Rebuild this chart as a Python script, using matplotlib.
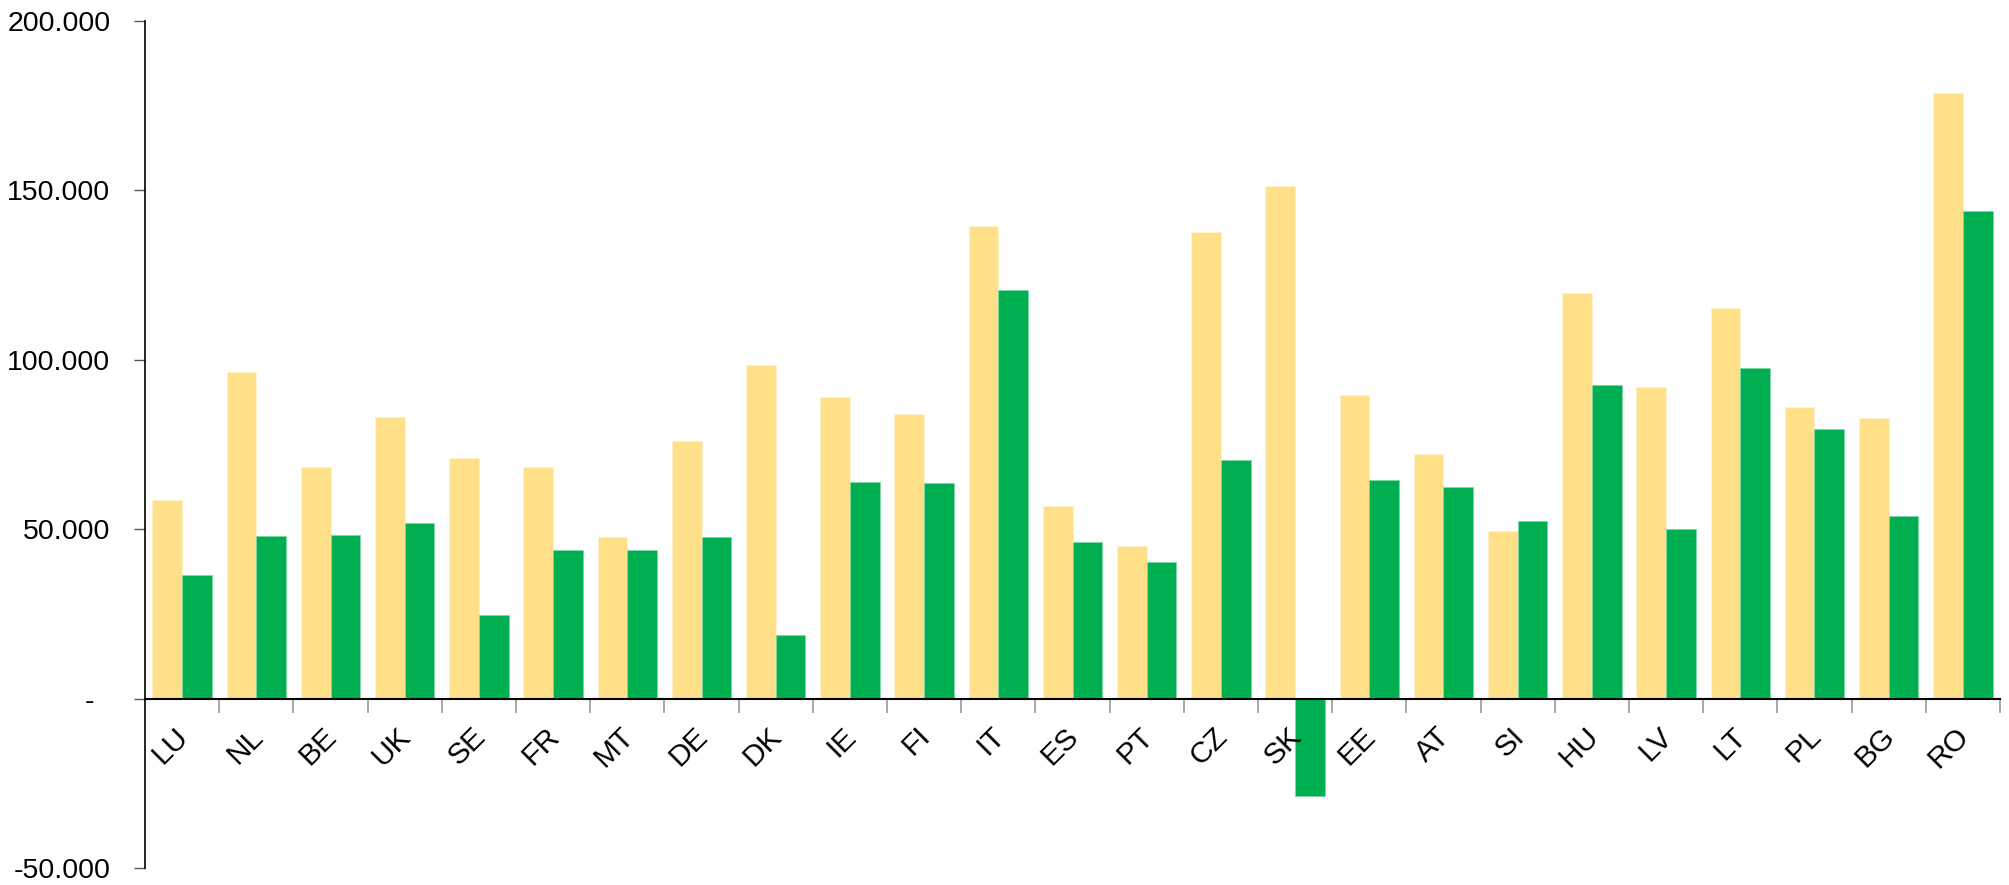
import numpy as np
import matplotlib.pyplot as plt
import matplotlib.transforms as mtransforms
from matplotlib.ticker import FixedLocator

plt.rcParams['font.family'] = ['Liberation Sans', 'DejaVu Sans']

# Country codes and the two series
countries = ["LU", "NL", "BE", "UK", "SE", "FR", "MT", "DE", "DK", "IE", "FI", "IT", "ES",
             "PT", "CZ", "SK", "EE", "AT", "SI", "HU", "LV", "LT", "PL", "BG", "RO"]
series_a = [58600, 96500, 68300, 83100, 70900, 68500, 47800, 76100, 98600, 89000, 83900, 139500, 56800,
            45100, 137700, 151200, 89500, 72100, 49600, 119600, 92100, 115200, 86100, 82900, 178600]
series_b = [36600, 47900, 48400, 51800, 24600, 43900, 44000, 47700, 18900, 64000, 63700, 120500, 46100,
            40200, 70400, -28800, 64600, 62600, 52500, 92600, 50000, 97600, 79600, 53900, 143800]

yticks = [-50000, 0, 50000, 100000, 150000, 200000]
ytick_labels = ["-50.000", "-  ", "50.000", "100.000", "150.000", "200.000"]

fig = plt.figure(figsize=(20.09, 8.85), dpi=100)
ax = fig.add_axes([0.0722, 0.0192, 0.9233, 0.9571])

x = np.arange(len(countries))
w = 0.4
ax.bar(x - w / 2, series_a, width=w, color="#FFDF88", edgecolor="#FFF3CC", linewidth=0.6)
ax.bar(x + w / 2, series_b, width=w, color="#00B050", edgecolor="#7FD8A7", linewidth=0.6)

ax.set_xlim(-0.5, len(countries) - 0.5)
ax.set_ylim(-50000, 200000)

for side in ["top", "right"]:
    ax.spines[side].set_visible(False)
ax.spines["bottom"].set_position(("data", 0))
ax.spines["bottom"].set_linewidth(1.5)
ax.spines["left"].set_linewidth(1.2)

ax.set_yticks(yticks)
ax.set_yticklabels(ytick_labels, fontsize=20.5)
ax.tick_params(axis="y", length=8, width=1, color="#555555", pad=17)

# boundary ticks (major) and labels at the centres (minor)
ax.xaxis.set_major_locator(FixedLocator(np.arange(len(countries)) + 0.5))
ax.xaxis.set_major_formatter(plt.NullFormatter())
ax.xaxis.set_minor_locator(FixedLocator(x))
ax.set_xticklabels(countries, minor=True, fontsize=21.5, rotation=45, ha="right",
                   va="center", rotation_mode="anchor")
ax.tick_params(axis="x", which="major", length=10, width=1.2, color="#999999")
ax.tick_params(axis="x", which="minor", length=0, pad=24)

offset = mtransforms.ScaledTranslation(2 / 100, 0, fig.dpi_scale_trans)
for lbl in ax.get_xticklabels(minor=True):
    lbl.set_transform(lbl.get_transform() + offset)

fig.savefig("out.png", dpi=100)
